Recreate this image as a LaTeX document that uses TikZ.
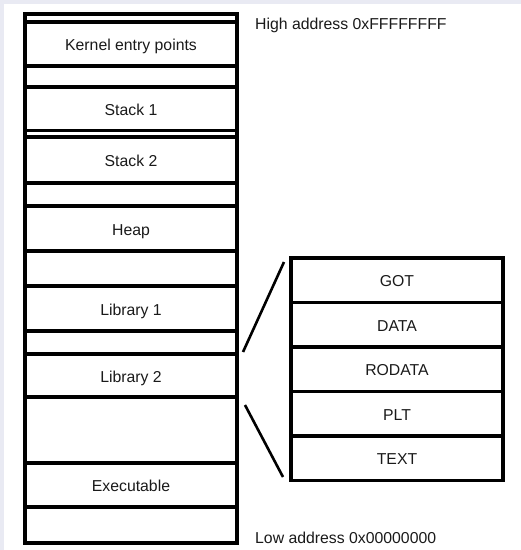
\documentclass[tikz,border=0pt]{standalone}
\usepackage{fontspec}
\setmainfont{Liberation Sans}
\definecolor{frame}{HTML}{E9EAF3}
\definecolor{ink}{HTML}{1A1A1A}
\begin{document}
\begin{tikzpicture}[x=1pt,y=-1pt,
  seg/.style={draw=black,line width=3.2pt,inner sep=0pt,minimum width=212pt,
    font=\fontsize{15.8}{18}\selectfont,text=ink,
    text height=13.3pt,text depth=0pt},
  part/.style={seg,minimum height=44.5pt},
  addr/.style={anchor=base west,inner sep=0pt,font=\fontsize{15.8}{18}\selectfont,text=ink},
  link/.style={line width=2.6pt}]
\useasboundingbox (0,0) rectangle (521,550);
% window chrome strip along the top and left
\fill[white] (0,0) rectangle (521,550);
\fill[frame] (0,0) rectangle (521,4);
\fill[frame] (0,0) rectangle (4,550);

% process address space, top to bottom
\node[seg,minimum height=8pt,text height=0pt]  (top) at (131,18) {};
\node[seg,minimum height=44pt] (kernel) at (131,44)    {Kernel entry points};
\node[seg,minimum height=21pt] (g1)     at (131,76.5)  {};
\node[seg,minimum height=43.5pt] (st1)  at (131,108.75){Stack 1};
\node[seg,minimum height=6.5pt,text height=0pt] (g2) at (131,133.75){};
\node[seg,minimum height=46pt] (st2)    at (131,160)   {Stack 2};
\node[seg,minimum height=23pt] (g3)     at (131,194.5) {};
\node[seg,minimum height=45pt] (heap)   at (131,228.5) {Heap};
\node[seg,minimum height=35pt] (g4)     at (131,268.5) {};
\node[seg,minimum height=45pt] (lib1)   at (131,308.5) {Library 1};
\node[seg,minimum height=23pt] (g5)     at (131,342.5) {};
\node[seg,minimum height=43pt] (lib2)   at (131,375.5) {Library 2};
\node[seg,minimum height=66pt] (g6)     at (131,430)   {};
\node[seg,minimum height=44pt] (exe)    at (131,485)   {Executable};
\node[seg,minimum height=36pt] (bot)    at (131,525)   {};

% sections of a loaded library
\node[part] (got)    at (397,280.25) {GOT};
\node[part] (data)   at (397,324.75) {DATA};
\node[part] (rodata) at (397,369.25) {RODATA};
\node[part] (plt)    at (397,413.75) {PLT};
\node[part] (text)   at (397,458.25) {TEXT};

% address labels
\node[addr] (hi) at (255,29)  {High address 0xFFFFFFFF};
\node[addr] (lo) at (255,543) {Low address 0x00000000};

% zoom lines from the library to its sections
\coordinate (za) at (243,352);
\coordinate (zb) at (284,262);
\coordinate (zc) at (245,405);
\coordinate (zd) at (283,477);
\draw[link] (za) -- (zb);
\draw[link] (zc) -- (zd);
\end{tikzpicture}
\end{document}
